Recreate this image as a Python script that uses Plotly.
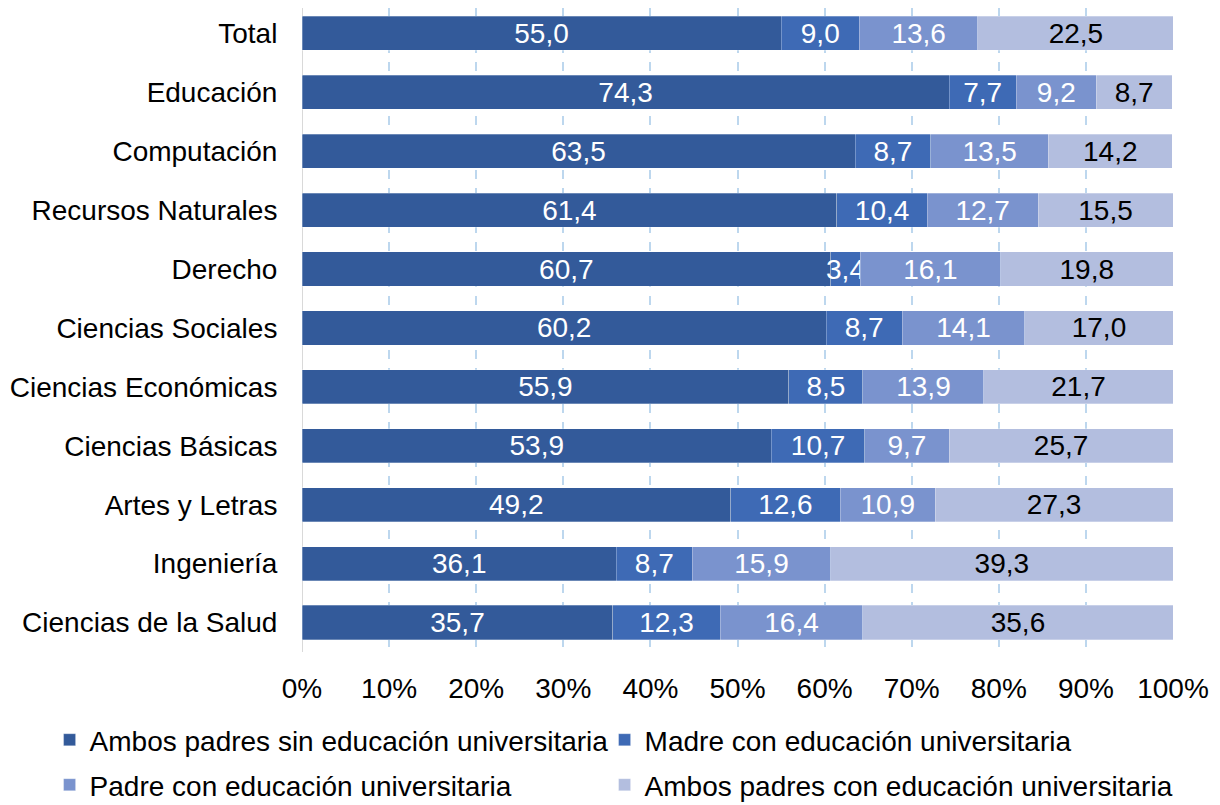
import plotly.graph_objects as go

# ── Data ──────────────────────────────────────────────────────────────────────
areas = ["Total", "Educación", "Computación", "Recursos Naturales", "Derecho",
         "Ciencias Sociales", "Ciencias Económicas", "Ciencias Básicas",
         "Artes y Letras", "Ingeniería", "Ciencias de la Salud"]

ambos_sin   = [55.0, 74.3, 63.5, 61.4, 60.7, 60.2, 55.9, 53.9, 49.2, 36.1, 35.7]
madre_con   = [9.0, 7.7, 8.7, 10.4, 3.4, 8.7, 8.5, 10.7, 12.6, 8.7, 12.3]
padre_con   = [13.6, 9.2, 13.5, 12.7, 16.1, 14.1, 13.9, 9.7, 10.9, 15.9, 16.4]
ambos_con   = [22.5, 8.7, 14.2, 15.5, 19.8, 17.0, 21.7, 25.7, 27.3, 39.3, 35.6]

series_names = ["Ambos padres sin educación universitaria",
                "Madre con educación universitaria",
                "Padre con educación universitaria",
                "Ambos padres con educación universitaria"]

tick_vals = [0, 10, 20, 30, 40, 50, 60, 70, 80, 90, 100]
tick_text = [f"{v}%" for v in tick_vals]

# ── Style ─────────────────────────────────────────────────────────────────────
COLOURS     = ["#335A9A", "#3E6AB5", "#7A93CE", "#B3BEDF"]
TEXT_COLOUR = ["white", "white", "white", "black"]
LEGEND_ID   = ["legend", "legend2", "legend3", "legend4"]
FONT        = "Liberation Sans, Arial, sans-serif"
FS          = 28

fig = go.Figure()
for name, vals, col, tcol, lg in zip(series_names,
                                     [ambos_sin, madre_con, padre_con, ambos_con],
                                     COLOURS, TEXT_COLOUR, LEGEND_ID):
    fig.add_trace(go.Bar(
        y=areas, x=vals, name=name, orientation="h", legend=lg,
        marker=dict(color=col, line=dict(color="rgba(255,255,255,0.35)", width=0.8)),
        text=[f"{v:.1f}".replace(".", ",") for v in vals],
        textposition="inside", insidetextanchor="middle",
        constraintext="none", textangle=0,
        textfont=dict(family=FONT, size=FS, color=tcol),
        hoverinfo="skip",
    ))

# one legend per entry so the 2x2 grid can be placed exactly
legend_common = dict(orientation="h", xanchor="left", yanchor="middle",
                     font=dict(family=FONT, size=FS), itemclick=False,
                     bgcolor="rgba(0,0,0,0)")
COL_X = [-0.2898, 0.3474]
ROW_Y = [-0.1367, -0.2065]

fig.update_layout(
    barmode="stack",
    bargap=0.42,
    width=1220, height=805,
    margin=dict(l=294, r=55, t=0, b=161, autoexpand=False),
    plot_bgcolor="white", paper_bgcolor="white",
    font=dict(family=FONT, size=FS, color="black"),
    xaxis=dict(range=[0, 100], tickvals=tick_vals, ticktext=tick_text,
               showgrid=True, gridcolor="#BDD7EE", griddash="dash", gridwidth=1.5,
               zeroline=False, showline=False,
               ticks="outside", ticklen=11, tickcolor="rgba(0,0,0,0)",
               tickfont=dict(family=FONT, size=FS)),
    yaxis=dict(range=[10.5, -0.43], showgrid=False, zeroline=False,
               showline=False,
               ticks="outside", ticklen=18, tickcolor="rgba(0,0,0,0)",
               tickfont=dict(family=FONT, size=FS)),
    showlegend=True,
    legend=dict(x=COL_X[0], y=ROW_Y[0], **legend_common),
    legend2=dict(x=COL_X[1], y=ROW_Y[0], **legend_common),
    legend3=dict(x=COL_X[0], y=ROW_Y[1], **legend_common),
    legend4=dict(x=COL_X[1], y=ROW_Y[1], **legend_common),
)
# left axis line
fig.add_shape(type="line", xref="x", yref="paper", x0=0, x1=0, y0=0, y1=1,
              line=dict(color="#D9D9D9", width=2), layer="below")

fig.write_html("out.html")
